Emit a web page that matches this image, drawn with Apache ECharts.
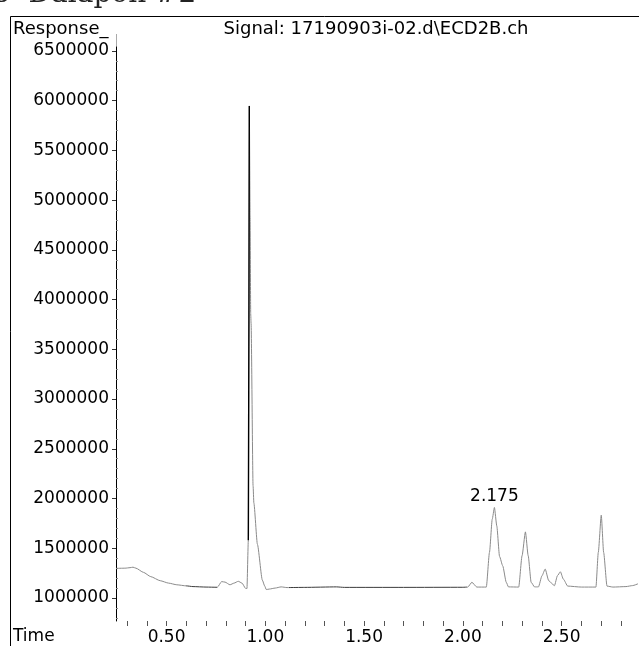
<!DOCTYPE html>
<html><head><meta charset="utf-8">
<script src="https://cdn.jsdelivr.net/npm/echarts@6/dist/echarts.min.js"></script>
<style>html,body{margin:0;padding:0;background:#fff}#c{width:639px;height:646px}</style>
</head><body><div id="c"></div>
<script>
// retention time (min)
const times = [
  0.244, 0.290, 0.315, 0.330, 0.345, 0.383, 0.420, 0.468, 0.510, 0.552, 0.600, 0.634, 0.700, 0.757,
  0.779, 0.796, 0.821, 0.842, 0.863, 0.882, 0.900,
  0.907, 0.914, 0.917, 0.919, 0.923, 0.926, 0.928, 0.938, 0.942, 0.960, 0.985, 0.997, 1.005,
  1.020, 1.050, 1.080, 1.110, 1.200, 1.360, 1.400, 1.700, 2.000,
  2.025, 2.046, 2.071, 2.119,
  2.135, 2.149, 2.160, 2.172, 2.186, 2.202, 2.220, 2.231, 2.283,
  2.300, 2.317, 2.331, 2.346, 2.363, 2.383,
  2.401, 2.417, 2.435, 2.464,
  2.479, 2.494, 2.509, 2.531, 2.600, 2.674,
  2.686, 2.701, 2.713, 2.730, 2.760, 2.826, 2.860, 2.887
];
// detector response
const responses = [
  1298000, 1300000, 1305000, 1310000, 1300000, 1258000, 1215000, 1174000, 1150000, 1133000, 1122000, 1115000, 1110000, 1108000,
  1165000, 1160000, 1133000, 1150000, 1168000, 1150000, 1097000,
  1095000, 1580000, 3800000, 5947000, 4850000, 3860000, 3760000, 2130000, 1956000, 1540000, 1180000, 1120000, 1085000,
  1090000, 1100000, 1112000, 1105000, 1107000, 1112000, 1107000, 1107000, 1108000,
  1110000, 1158000, 1110000, 1110000,
  1459000, 1793000, 1910000, 1725000, 1418000, 1324000, 1158000, 1112000, 1110000,
  1425000, 1665000, 1425000, 1158000, 1112000, 1112000,
  1224000, 1291000, 1174000, 1124000,
  1224000, 1264000, 1190000, 1120000, 1110000, 1110000,
  1459000, 1833000, 1459000, 1120000, 1110000, 1115000, 1125000, 1143000
];
const yTickValues = [1000000, 1500000, 2000000, 2500000, 3000000, 3500000, 4000000, 4500000, 5000000, 5500000, 6000000, 6500000];
const yMinorTicks = [800000, 900000, 1100000, 1200000, 1300000, 1400000, 1600000, 1700000, 1800000, 1900000,
  2100000, 2200000, 2300000, 2400000, 2600000, 2700000, 2800000, 2900000, 3100000, 3200000, 3300000, 3400000,
  3600000, 3700000, 3800000, 3900000, 4100000, 4200000, 4300000, 4400000, 4600000, 4700000, 4800000, 4900000,
  5100000, 5200000, 5300000, 5400000, 5600000, 5700000, 5800000, 5900000, 6100000, 6200000, 6300000, 6400000];
const xTickLabels = [0.5, 1.0, 1.5, 2.0, 2.5];
const xTicks = [0.3, 0.4, 0.5, 0.6, 0.7, 0.8, 0.9, 1.0, 1.1, 1.2, 1.3, 1.4, 1.5, 1.6, 1.7, 1.8, 1.9, 2.0, 2.1, 2.2, 2.3, 2.4, 2.5, 2.6, 2.7, 2.8];
const peakLabel = { time: 2.160, response: 1910000, text: '2.175' };
// the steep leading edge of the main peak is drawn dark in the original trace
const leadingEdge = { from: 0.914, to: 0.919 };

const FONT = 'DejaVu Sans';
const data = times.map((t, i) => [t, responses[i]]);
const edgeData = data.filter(d => d[0] >= leadingEdge.from && d[0] <= leadingEdge.to);
const chart = echarts.init(document.getElementById('c'), null, { renderer: 'canvas' });
chart.setOption({
  animation: false,
  backgroundColor: '#fff',
  grid: { left: 116, right: 1, top: 47, bottom: 24 },
  xAxis: {
    type: 'value', min: 0.244, max: 2.887,
    axisLine: { show: false },
    axisTick: { show: true, length: 5, customValues: xTicks, lineStyle: { color: '#555' } },
    axisLabel: { customValues: xTickLabels, margin: 8, color: '#000', fontFamily: FONT, fontSize: 17,
      formatter: v => v.toFixed(2) },
    splitLine: { show: false }
  },
  yAxis: [{
    type: 'value', min: 769000, max: 6539000,
    axisLine: { show: true, lineStyle: { color: '#000', width: 1 } },
    axisTick: { show: true, length: 4, customValues: yTickValues, lineStyle: { color: '#333' } },
    axisLabel: { customValues: yTickValues, margin: 7, color: '#000', fontFamily: FONT, fontSize: 17,
      formatter: v => String(v) },
    splitLine: { show: false }
  }, {
    type: 'value', min: 769000, max: 6539000, position: 'left',
    axisLine: { show: false },
    axisTick: { show: true, inside: true, length: 2, customValues: yMinorTicks, lineStyle: { color: '#888' } },
    axisLabel: { show: false },
    splitLine: { show: false }
  }],
  visualMap: {
    show: false, type: 'piecewise', dimension: 0, seriesIndex: 0,
    pieces: [
      { min: 0.60, max: 0.757, color: '#3a3a3a' },
      { min: 1.12, max: 2.02, color: '#3a3a3a' }
    ],
    outOfRange: { color: '#8a8a8a' }
  },
  series: [{
    type: 'line', data: data, showSymbol: false, symbol: 'none', smooth: 0.2, smoothMonotone: 'x',
    lineStyle: { width: 1 },
    markPoint: {
      symbol: 'circle', symbolSize: 0,
      label: { show: true, position: 'inside', offset: [0, -11], color: '#000', fontFamily: FONT, fontSize: 17,
        formatter: () => peakLabel.text },
      data: [{ coord: [peakLabel.time, peakLabel.response] }]
    }
  }, {
    type: 'line', data: edgeData, showSymbol: false, symbol: 'none',
    lineStyle: { width: 1.4, color: '#000' }, z: 3
  }],
  graphic: [
    { type: 'line', shape: { x1: 10.5, y1: 16.5, x2: 639, y2: 16.5 }, style: { stroke: '#000', lineWidth: 1 } },
    { type: 'line', shape: { x1: 10.5, y1: 16.5, x2: 10.5, y2: 646 }, style: { stroke: '#000', lineWidth: 1 } },
    { type: 'line', shape: { x1: 116.5, y1: 34, x2: 116.5, y2: 47 }, style: { stroke: '#aaa', lineWidth: 1 } },
    { type: 'text', x: 13, y: 29, style: { text: 'Response_', fill: '#000', font: '18px "DejaVu Sans"', verticalAlign: 'middle', align: 'left' } },
    { type: 'text', x: 376, y: 29, style: { text: 'Signal: 17190903i-02.d\\ECD2B.ch', fill: '#000', font: '18px "DejaVu Sans"', verticalAlign: 'middle', align: 'center' } },
    { type: 'text', x: 13, y: 637, style: { text: 'Time', fill: '#000', font: '17px "DejaVu Sans"', verticalAlign: 'middle', align: 'left' } },
    { type: 'text', x: -7, y: -5, style: { text: '5  Dalapon #2', fill: '#222', font: '28px "DejaVu Serif"', verticalAlign: 'middle', align: 'left' } }
  ]
});
</script></body></html>
